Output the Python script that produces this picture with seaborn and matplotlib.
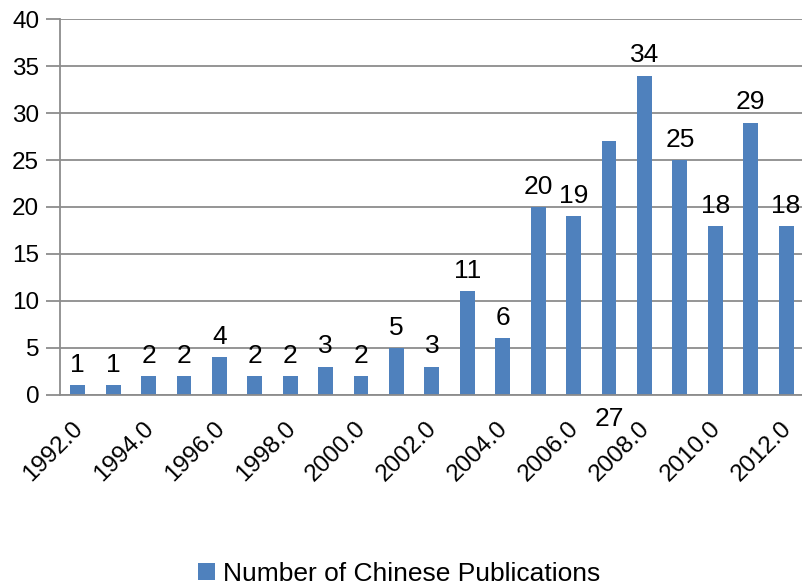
import matplotlib
matplotlib.use("Agg")
import matplotlib.pyplot as plt
import matplotlib.transforms as mtransforms
from matplotlib.ticker import FixedLocator, NullFormatter
import seaborn as sns
import pandas as pd

years = [1992.0, 1993.0, 1994.0, 1995.0, 1996.0, 1997.0, 1998.0, 1999.0, 2000.0, 2001.0,
         2002.0, 2003.0, 2004.0, 2005.0, 2006.0, 2007.0, 2008.0, 2009.0, 2010.0, 2011.0, 2012.0]
counts = [1, 1, 2, 2, 4, 2, 2, 3, 2, 5, 3, 11, 6, 20, 19, 27, 34, 25, 18, 29, 18]
series_name = "Number of Chinese Publications"
yticks = [0, 5, 10, 15, 20, 25, 30, 35, 40]

sns.set_theme(style="white")
plt.rcParams['font.family'] = ['Liberation Sans', 'DejaVu Sans']

BAR = "#4F81BD"
GRID = "#8C8C8C"

df = pd.DataFrame({"year": [f"{y:.1f}" for y in years], "count": counts, "series": series_name})

fig = plt.figure(figsize=(8.02, 5.86), dpi=100)
ax = fig.add_axes([60 / 802, 191.3 / 586, 743.8 / 802, 375.4 / 586])

sns.barplot(data=df, x="year", y="count", hue="series", palette=[BAR], width=0.42,
            saturation=1, ax=ax, legend=True, linewidth=0, edgecolor=BAR)

ax.set_xlim(-0.5, len(years) - 0.5)
ax.set_ylim(0, 40)
ax.set_yticks(yticks)
ax.set_yticklabels([str(t) for t in yticks], fontsize=17.5, color="black")
ax.yaxis.grid(True, color=GRID, linewidth=1.3)
ax.set_axisbelow(True)

# x tick labels at even years; tick marks on category boundaries
ax.set_xticks([i for i, y in enumerate(years) if int(y) % 2 == 0])
ax.set_xticklabels([f"{y:.1f}" for y in years if int(y) % 2 == 0], rotation=45,
                   ha="right", va="top", rotation_mode="anchor", fontsize=17.5, color="black")
ax.tick_params(axis="x", which="major", length=0, pad=12)
offset = mtransforms.ScaledTranslation(-6 / 100, -6 / 100, fig.dpi_scale_trans)
for lab in ax.get_xticklabels():
    lab.set_transform(lab.get_transform() + offset)
ax.xaxis.set_minor_locator(FixedLocator([i - 0.5 for i in range(len(years) + 1)]))
ax.xaxis.set_minor_formatter(NullFormatter())
ax.tick_params(axis="x", which="minor", length=10, width=1.3, color=GRID, direction="out")
ax.tick_params(axis="y", length=10, width=1.3, color=GRID, direction="out", pad=5, left=True)

for s in ["top", "right"]:
    ax.spines[s].set_visible(False)
for s in ["left", "bottom"]:
    ax.spines[s].set_color(GRID)
    ax.spines[s].set_linewidth(1.3)

ax.set_xlabel("")
ax.set_ylabel("")

# data labels
for i, (y, c) in enumerate(zip(years, counts)):
    if c == 27:
        ax.annotate(str(c), xy=(i, 0), xytext=(0, -22.5), textcoords="offset points",
                    ha="center", va="baseline", fontsize=19, color="black", annotation_clip=False)
    else:
        ax.annotate(str(c), xy=(i, c), xytext=(0, 9.5), textcoords="offset points",
                    ha="center", va="baseline", fontsize=19, color="black", annotation_clip=False)

leg = ax.legend(loc="center", bbox_to_anchor=(399 / 802, 12 / 586), bbox_transform=fig.transFigure,
                frameon=False, fontsize=19, handlelength=0.65, handleheight=0.6,
                handletextpad=0.3, borderaxespad=0, borderpad=0)
for t in leg.get_texts():
    t.set_color("black")

fig.savefig("out.png", dpi=100)
